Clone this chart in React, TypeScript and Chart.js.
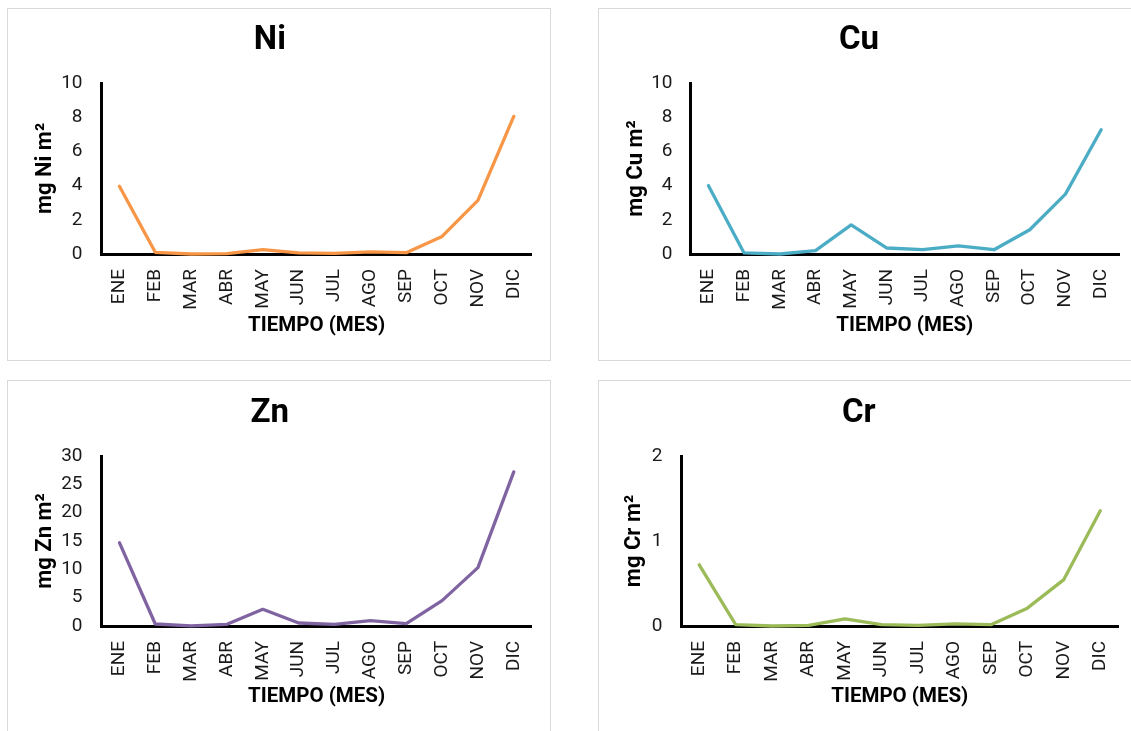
import React, { useEffect, useRef } from "react";
import { Chart, registerables } from "chart.js";

Chart.register(...registerables);

// ---- data ----
const months = ["ENE", "FEB", "MAR", "ABR", "MAY", "JUN", "JUL", "AGO", "SEP", "OCT", "NOV", "DIC"];
const niValues = [3.96, 0.1, 0.0, 0.02, 0.25, 0.06, 0.04, 0.12, 0.08, 1.03, 3.14, 8.05];
const cuValues = [4.0, 0.06, 0.0, 0.2, 1.7, 0.35, 0.25, 0.47, 0.25, 1.42, 3.5, 7.27];
const znValues = [14.7, 0.35, 0.03, 0.3, 2.95, 0.53, 0.3, 0.94, 0.41, 4.48, 10.3, 27.2];
const crValues = [0.72, 0.016, 0.0, 0.008, 0.083, 0.016, 0.008, 0.024, 0.016, 0.21, 0.546, 1.355];
const niAxis = { max: 10, step: 2 };
const cuAxis = { max: 10, step: 2 };
const znAxis = { max: 30, step: 5 };
const crAxis = { max: 2, step: 1 };
const xAxisTitle = "TIEMPO (MES)";

// ---- styling / layout ----
const FONT = "Roboto, 'Liberation Sans', Arial, sans-serif";
const panels = [
  {
    title: "Ni", yTitle: "mg Ni m²", values: niValues, axis: niAxis, color: "#F79646",
    box: { x: 7, y: 8, w: 544, h: 353 },
    area: { l: 101.5, t: 83, r: 531.7, b: 254 },
    titleCY: 41, yTitleCX: 45.5, xTitleCY: 326, tickPad: 19,
  },
  {
    title: "Cu", yTitle: "mg Cu m²", values: cuValues, axis: cuAxis, color: "#4BACC6",
    box: { x: 598, y: 8, w: 544, h: 353 },
    area: { l: 690.5, t: 83, r: 1119, b: 254 },
    titleCY: 41, yTitleCX: 636, xTitleCY: 326, tickPad: 18,
  },
  {
    title: "Zn", yTitle: "mg Zn m²", values: znValues, axis: znAxis, color: "#8064A2",
    box: { x: 7, y: 380, w: 544, h: 353 },
    area: { l: 101.5, t: 456, r: 531.7, b: 626 },
    titleCY: 413.5, yTitleCX: 45.5, xTitleCY: 697, tickPad: 19,
  },
  {
    title: "Cr", yTitle: "mg Cr m²", values: crValues, axis: crAxis, color: "#9BBB59",
    box: { x: 598, y: 380, w: 544, h: 353 },
    area: { l: 681, t: 456, r: 1118.5, b: 626 },
    titleCY: 413.5, yTitleCX: 634.5, xTitleCY: 697, tickPad: 18.5,
  },
];

type PanelCfg = (typeof panels)[number];

function ChartPanel({ cfg }: { cfg: PanelCfg }) {
  const ref = useRef<HTMLCanvasElement | null>(null);
  const cw = cfg.box.w - 2;
  const ch = cfg.box.h - 2;
  useEffect(() => {
    if (!ref.current) return;
    const ox = cfg.box.x + 1;
    const oy = cfg.box.y + 1;
    const titleSize = 33;
    const titleLH = titleSize * 1.2;
    const titlePadTop = cfg.titleCY - oy - titleLH / 2;
    const titlePadBottom = cfg.area.t - oy - titleLH - titlePadTop;
    const axTitleSize = 22;
    const axLH = axTitleSize * 1.2;
    const xTitleSize = 20.5;
    const xLH = xTitleSize * 1.2;
    const yWidth = cfg.area.l - ox;
    const xHeight = ch - (cfg.area.b - oy);
    const chart = new Chart(ref.current, {
      type: "line",
      data: {
        labels: months,
        datasets: [
          {
            data: cfg.values,
            borderColor: cfg.color,
            backgroundColor: cfg.color,
            borderWidth: 3.3,
            pointRadius: 0,
            tension: 0,
            clip: false as any,
            borderCapStyle: "round",
            borderJoinStyle: "round",
          },
        ],
      },
      options: {
        animation: false,
        responsive: false,
        events: [],
        layout: { padding: { left: 0, top: 0, bottom: 0, right: cw - (cfg.area.r - ox) } },
        plugins: {
          legend: { display: false },
          tooltip: { enabled: false },
          title: {
            display: true,
            text: cfg.title,
            color: "#000",
            font: { family: FONT, size: titleSize, weight: "bold", lineHeight: 1.2 },
            padding: { top: titlePadTop, bottom: titlePadBottom },
          },
        },
        scales: {
          x: {
            type: "category",
            offset: true,
            grid: { display: false, drawTicks: false, tickLength: 0 },
            border: { display: true, color: "#000", width: 3 },
            ticks: {
              color: "#1a1a1a",
              font: { family: FONT, size: 19 },
              minRotation: 90,
              maxRotation: 90,
              padding: 15,
              autoSkip: false,
            },
            title: {
              display: true,
              text: xAxisTitle,
              color: "#000",
              font: { family: FONT, size: xTitleSize, weight: "bold", lineHeight: 1.2 },
              padding: { top: 0, bottom: cfg.box.y + cfg.box.h - 1 - cfg.xTitleCY - xLH / 2 },
            },
            afterFit: (s: any) => {
              s.height = xHeight;
              s.paddingLeft = 0;
              s.paddingRight = 0;
            },
          },
          y: {
            min: 0,
            max: cfg.axis.max,
            grid: { display: false, drawTicks: false, tickLength: 0 },
            border: { display: true, color: "#000", width: 3 },
            ticks: {
              stepSize: cfg.axis.step,
              color: "#1a1a1a",
              font: { family: FONT, size: 19 },
              padding: cfg.tickPad,
            },
            title: {
              display: true,
              text: cfg.yTitle,
              color: "#000",
              font: { family: FONT, size: axTitleSize, weight: "bold", lineHeight: 1.2 },
              padding: { top: cfg.yTitleCX - ox - axLH / 2, bottom: 0 },
            },
            afterFit: (s: any) => {
              s.width = yWidth;
            },
          },
        },
      },
    });
    return () => chart.destroy();
  }, [cfg]);
  return (
    <div
      style={{
        position: "absolute",
        left: cfg.box.x,
        top: cfg.box.y,
        width: cfg.box.w,
        height: cfg.box.h,
        border: "1px solid #d9d9d9",
        boxSizing: "border-box",
        background: "#fff",
      }}
    >
      <canvas ref={ref} width={cw} height={ch} style={{ display: "block", width: cw, height: ch }} />
    </div>
  );
}

export default function App() {
  return (
    <div style={{ position: "fixed", left: 0, top: 0, width: 1131, height: 731, overflow: "hidden", background: "#fff" }}>
      {panels.map((p) => (
        <ChartPanel key={p.title} cfg={p} />
      ))}
    </div>
  );
}
